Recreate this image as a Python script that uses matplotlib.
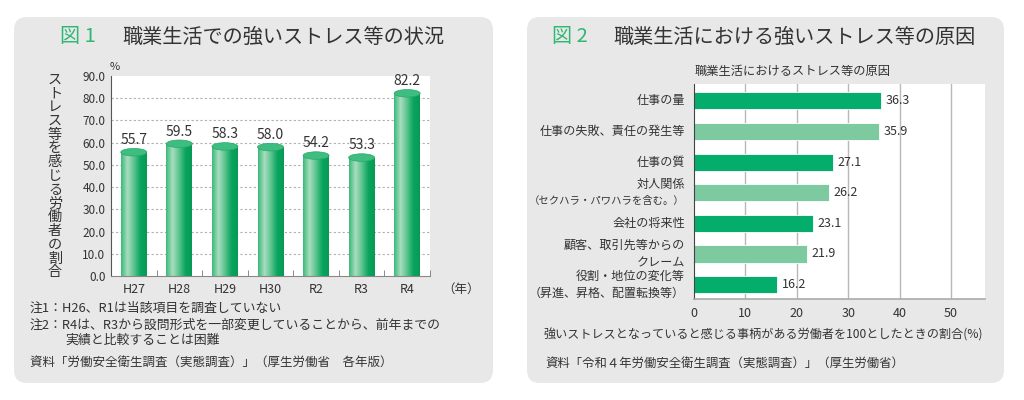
import matplotlib
matplotlib.use('Agg')
import matplotlib.pyplot as plt
import numpy as np
from matplotlib.patches import FancyBboxPatch, Rectangle, Ellipse
from matplotlib.colors import LinearSegmentedColormap

plt.rcParams['font.family'] = ['Noto Sans CJK JP', 'DejaVu Sans']

# 図1 data
years = ['H27', 'H28', 'H29', 'H30', 'R2', 'R3', 'R4']
stress_rate = [55.7, 59.5, 58.3, 58.0, 54.2, 53.3, 82.2]

# 図2 data
causes = ['仕事の量', '仕事の失敗、責任の発生等', '仕事の質',
          '対人関係\n（セクハラ・パワハラを含む。）', '会社の将来性',
          '顧客、取引先等からの\nクレーム', '役割・地位の変化等\n（昇進、昇格、配置転換等）']
cause_rate = [36.3, 35.9, 27.1, 26.2, 23.1, 21.9, 16.2]

W, H = 1024, 400
PANEL = '#e8e8e9'
GREEN_T = '#2fb774'
DARK = '#05ad6d'
LIGHT = '#7dc9a0'
TXT = '#333333'

fig = plt.figure(figsize=(W / 100, H / 100), dpi=100)
fig.patch.set_facecolor('white')


def fx(x):
    return x / W


def fy(y):
    return 1 - y / H


# rounded panels (in inches so the corners stay round)
for x0, x1 in [(14, 493), (527, 1004)]:
    p = FancyBboxPatch((x0 / 100, 17 / 100), (x1 - x0) / 100, (383 - 17) / 100,
                       boxstyle='round,pad=0,rounding_size=0.13',
                       transform=fig.dpi_scale_trans, facecolor=PANEL,
                       edgecolor='none', zorder=-5)
    fig.patches.append(p)

# ---------------- 図1 ----------------
fig.text(fx(60), fy(37), '図 1', color=GREEN_T, fontsize=14.5, va='center', ha='left')
fig.text(fx(122), fy(37), '職業生活での強いストレス等の状況', color=TXT, fontsize=14.5,
         va='center', ha='left')

ax1 = fig.add_axes([fx(111), fy(276), fx(430) - fx(111), (276 - 76) / H])
ax1.set_facecolor('white')
for s in ['top', 'right']:
    ax1.spines[s].set_visible(False)
ax1.spines['left'].set_color('#555555')
ax1.spines['bottom'].set_color('#888888')
ax1.set_yticks(np.arange(0, 91, 10))
ax1.set_yticklabels([f'{v:.1f}' for v in np.arange(0, 91, 10)], fontsize=8.5, color=TXT)
ax1.tick_params(axis='y', length=0, pad=4)
ax1.set_xticks(range(len(years)))
ax1.set_xticklabels(years, fontsize=9, color=TXT)
ax1.tick_params(axis='x', length=0, pad=5)
ax1.set_xticks(np.arange(0.5, len(years), 1), minor=True)
ax1.tick_params(axis='x', which='minor', direction='in', length=4, color='#777777')
for v in range(10, 90, 10):
    ax1.axhline(v, color='#b0b0b0', lw=0.8, ls=(0, (2, 2)), zorder=1)

cyl = LinearSegmentedColormap.from_list('cyl', ['#3cba7b', '#a9ddc0', '#5cc48f', '#0aa55f', '#079a55'])
grad = np.linspace(0, 1, 64).reshape(1, -1)
bw = 0.57
cap = 3.4
for i, v in enumerate(stress_rate):
    rect = Rectangle((i - bw / 2, 0), bw, v, facecolor='none', edgecolor='none')
    ax1.add_patch(rect)
    im = ax1.imshow(grad, cmap=cyl, aspect='auto', extent=[i - bw / 2, i + bw / 2, 0, v],
                    zorder=2, interpolation='bilinear')
    im.set_clip_path(rect)
    ax1.add_patch(Ellipse((i, v), bw, cap, facecolor='#3dbd7f', edgecolor='#2aa86a',
                          lw=0.5, zorder=3))
    ax1.text(i, v + cap / 2 + 0.6, f'{v:.1f}', ha='center', va='bottom', fontsize=10, color=TXT)
ax1.set_xlim(-0.5, len(years) - 0.5)
ax1.set_ylim(0, 90)

fig.text(fx(115), fy(67), '%', fontsize=8, color=TXT, ha='center', va='center')
fig.text(fx(442), fy(289), '（年）', fontsize=9, color=TXT, ha='left', va='center')
fig.text(fx(55), fy(176), '\n'.join('ストレス等を感じる労働者の割合'), fontsize=10.2,
         color=TXT, ha='center', va='center', linespacing=0.98)

fig.text(fx(30), fy(308), '注1：H26、R1は当該項目を調査していない', fontsize=9.3, color=TXT, va='center')
fig.text(fx(30), fy(325), '注2：R4は、R3から設問形式を一部変更していることから、前年までの',
         fontsize=9.3, color=TXT, va='center')
fig.text(fx(65), fy(340), '実績と比較することは困難', fontsize=9.3, color=TXT, va='center')
fig.text(fx(30), fy(363), '資料「労働安全衛生調査（実態調査）」（厚生労働省　各年版）',
         fontsize=9, color=TXT, va='center')

# ---------------- 図2 ----------------
fig.text(fx(552), fy(37), '図 2', color=GREEN_T, fontsize=14.5, va='center', ha='left')
fig.text(fx(613), fy(37), '職業生活における強いストレス等の原因', color=TXT, fontsize=14.5,
         va='center', ha='left')
fig.text(fx(793), fy(71), '職業生活におけるストレス等の原因', color=TXT, fontsize=8.8,
         va='center', ha='center')

ax2 = fig.add_axes([fx(694), fy(299), fx(985) - fx(694), (299 - 84) / H])
ax2.set_facecolor('white')
ypos = np.arange(len(causes))
colors = [DARK if i % 2 == 0 else LIGHT for i in ypos]
ax2.barh(ypos, cause_rate, height=0.56, color=colors, edgecolor='white', lw=0.6, zorder=2)
for y, v in zip(ypos, cause_rate):
    ax2.text(v + 0.9, y, f'{v:.1f}', va='center', ha='left', fontsize=9, color=TXT)
ax2.set_xlim(0, 56.6)
ax2.set_ylim(6.47, -0.55)
ax2.set_xticks(range(0, 51, 10))
ax2.set_xticklabels([str(v) for v in range(0, 51, 10)], fontsize=9, color=TXT)
ax2.set_yticks(ypos)
ax2.set_yticklabels([])
ax2.tick_params(axis='both', length=0)
ax2.tick_params(axis='x', pad=6)

# category labels drawn line by line; long bracketed lines are shrunk to fit the panel
ytr = ax2.get_yaxis_transform()
lx = -9 / 291


def label_size(line):
    if line.startswith('（'):
        return min(8.7, 156 / len(line) / 1.389)
    return 8.7


for y, lab in zip(ypos, causes):
    lines = lab.split('\n')
    if len(lines) == 1:
        ax2.text(lx, y, lines[0], transform=ytr, ha='right', va='center', fontsize=8.7, color=TXT)
    else:
        ax2.text(lx, y - 0.28, lines[0], transform=ytr, ha='right', va='center',
                 fontsize=label_size(lines[0]), color=TXT)
        ax2.text(lx, y + 0.28, lines[1], transform=ytr, ha='right', va='center',
                 fontsize=label_size(lines[1]), color=TXT)

for v in range(10, 51, 10):
    ax2.axvline(v, color='#b8b8b8', lw=1.0, zorder=1)
for s in ['top', 'right']:
    ax2.spines[s].set_visible(False)
ax2.spines['left'].set_color('#444444')
ax2.spines['bottom'].set_color('#aaaaaa')
ax2.spines['bottom'].set_linewidth(1.2)

fig.text(fx(543), fy(335), '強いストレスとなっていると感じる事柄がある労働者を100としたときの割合(%)',
         fontsize=8.7, color=TXT, va='center')
fig.text(fx(545), fy(363), '資料「令和４年労働安全衛生調査（実態調査）」（厚生労働省）',
         fontsize=8.9, color=TXT, va='center')

fig.savefig('out.png', dpi=100, facecolor='white')
